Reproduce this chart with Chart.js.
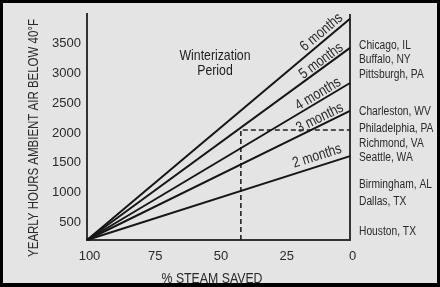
<!DOCTYPE html>
<html><head><meta charset="utf-8">
<script src="https://cdn.jsdelivr.net/npm/chart.js@4.4.1/dist/chart.umd.min.js"></script>
<style>html,body{margin:0;padding:0;background:#000;overflow:hidden}canvas{display:block}</style>
</head><body>
<canvas id="c" width="440" height="287"></canvas>
<script>
// ---- data ----
const steamSaved = [100, 0];                       // % steam saved at line ends
const monthLabels = ['2 months', '3 months', '4 months', '5 months', '6 months'];
const hoursAt100 = [200, 200, 200, 200, 200];
const hoursAt0 = [1610, 2370, 2840, 3430, 3920];
const xTickValues = [100, 75, 50, 25, 0];
const yTickValues = [500, 1000, 1500, 2000, 2500, 3000, 3500];
const examplePercent = [41.5, 41.5, 0];
const exampleHours = [200, 2050, 2050];
const cities = ['Chicago, IL', 'Buffalo, NY', 'Pittsburgh, PA', 'Charleston, WV', 'Philadelphia, PA',
  'Richmond, VA', 'Seattle, WA', 'Birmingham, AL', 'Dallas, TX', 'Houston, TX'];
const cityHours = [3470, 3230, 2990, 2360, 2070, 1830, 1585, 1125, 845, 340];
const yTitle = 'YEARLY HOURS AMBIENT AIR BELOW 40\u00B0F';
const xTitle = '% STEAM SAVED';
const noteLines = ['Winterization', 'Period'];

// ---- styles ----
const BG = '#e4e4e4';
const INK = '#2a2a2a';
const FONT = '"Liberation Sans", Arial, sans-serif';
const SQUEEZE = 0.82;
const labelPct = [11.4, 10.3, 10.8, 9.5, 8.9];
const labelOffset = [10, 7, 7, 6.5, 8];

function narrowText(ctx, text, x, y, size, align) {
  ctx.save();
  ctx.translate(x, y);
  ctx.scale(SQUEEZE, 1);
  ctx.font = size + 'px ' + FONT;
  ctx.textAlign = align; ctx.textBaseline = 'middle';
  ctx.fillText(text, 0, 0);
  ctx.restore();
}

const datasets = hoursAt0.map((h, i) => ({
  label: monthLabels[i],
  data: steamSaved.map((p, j) => ({ x: p, y: j === 0 ? hoursAt100[i] : h })),
  showLine: true, borderColor: '#161616', borderWidth: 2, pointRadius: 0, clip: false
}));
datasets.push({
  label: 'example',
  data: examplePercent.map((p, i) => ({ x: p, y: exampleHours[i] })),
  showLine: true, borderColor: '#222', borderWidth: 1.6, borderDash: [5, 3], pointRadius: 0, clip: false
});
datasets.push({
  label: 'right axis',
  data: [{ x: 0, y: 200 }, { x: 0, y: 4000 }],
  showLine: true, borderColor: '#333', borderWidth: 2, pointRadius: 0, clip: false
});

const deco = {
  id: 'deco',
  beforeDraw(chart) {
    const c = chart.ctx;
    c.save();
    c.fillStyle = '#000'; c.fillRect(0, 0, 440, 287);
    c.fillStyle = BG; c.fillRect(3, 3, 434, 280);
    c.restore();
  },
  afterDraw(chart) {
    const { ctx, scales: { x, y } } = chart;
    ctx.save();
    ctx.fillStyle = INK;
    // month labels along lines
    monthLabels.forEach((t, i) => {
      const x0 = x.getPixelForValue(100), y0 = y.getPixelForValue(hoursAt100[i]);
      const x1 = x.getPixelForValue(0), y1 = y.getPixelForValue(hoursAt0[i]);
      const a = Math.atan2(y1 - y0, x1 - x0);
      const px = x.getPixelForValue(labelPct[i]);
      const py = y0 + (y1 - y0) * (px - x0) / (x1 - x0);
      const nx = Math.sin(a), ny = -Math.cos(a);
      ctx.save();
      ctx.translate(px + nx * labelOffset[i], py + ny * labelOffset[i]);
      ctx.rotate(a);
      narrowText(ctx, t, 0, 0, 15, 'center');
      ctx.restore();
    });
    // city labels
    cities.forEach((t, i) => narrowText(ctx, t, x.getPixelForValue(0) + 9, y.getPixelForValue(cityHours[i]), 12.5, 'left'));
    // note
    ctx.fillStyle = '#1e1e1e';
    narrowText(ctx, noteLines[0], 215, 56, 15, 'center');
    narrowText(ctx, noteLines[1], 215, 71, 15, 'center');
    // axis titles
    ctx.fillStyle = INK;
    narrowText(ctx, xTitle, 212, 279, 15, 'center');
    ctx.save();
    ctx.translate(34, 138);
    ctx.rotate(-Math.PI / 2);
    narrowText(ctx, yTitle, 0, 0, 14, 'center');
    ctx.restore();
    ctx.restore();
  }
};

new Chart(document.getElementById('c'), {
  type: 'scatter',
  data: { datasets },
  options: {
    responsive: false, animation: false, devicePixelRatio: 1,
    layout: { padding: { top: 14, right: 90, left: 0, bottom: 0 } },
    plugins: { legend: { display: false }, tooltip: { enabled: false } },
    scales: {
      x: {
        type: 'linear', reverse: true, min: 0, max: 100,
        afterBuildTicks: s => { s.ticks = xTickValues.map(v => ({ value: v })); },
        afterFit: s => { s.height = 47; },
        grid: { display: false, drawTicks: false },
        border: { display: true, color: '#333', width: 2 },
        ticks: { color: INK, font: { family: FONT, size: 13 }, padding: 9, maxRotation: 0, labelOffset: 2.5, callback: v => String(v) }
      },
      y: {
        type: 'linear', min: 200, max: 4000,
        afterBuildTicks: s => { s.ticks = yTickValues.map(v => ({ value: v })); },
        afterFit: s => { s.width = 87; },
        grid: { display: false, drawTicks: false },
        border: { display: true, color: '#333', width: 2 },
        ticks: { color: INK, font: { family: FONT, size: 13 }, padding: 6, callback: v => String(v) }
      }
    }
  },
  plugins: [deco]
});
</script>
</body></html>
